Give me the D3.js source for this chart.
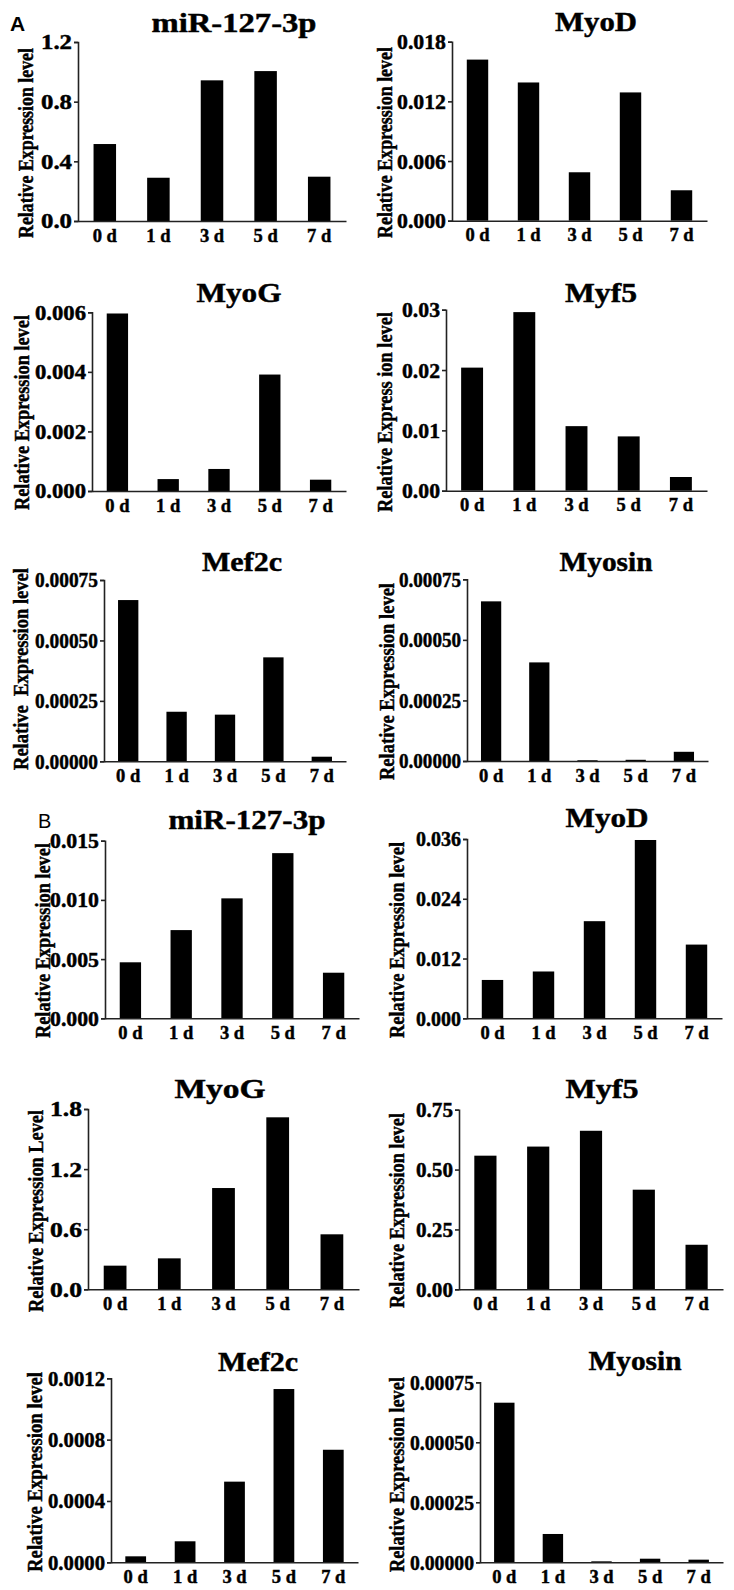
<!DOCTYPE html>
<html>
<head>
<meta charset="utf-8">
<script src="https://cdn.jsdelivr.net/npm/d3@7"></script>
<style>
  html, body { margin: 0; padding: 0; background: #fff; }
  svg { display: block; }
  text { font-family: "Liberation Serif", "Times New Roman", serif; font-weight: bold; fill: #000; }
</style>
</head>
<body>
<div id="chart"></div>
<script>
const days = ['0 d', '1 d', '3 d', '5 d', '7 d']

// A: values
const aMir = [0.516, 0.29, 0.943, 1.005, 0.297]
const aMyoD = [0.0162, 0.0139, 0.00487, 0.0129, 0.00306]
const aMyoG = [0.00596, 0.0004, 0.00074, 0.00391, 0.00038]
const aMyf5 = [0.0204, 0.0296, 0.0107, 0.009, 0.00227]
const aMef2c = [0.000667, 0.000205, 0.000193, 0.00043, 0.000019]
const aMyosin = [0.000659, 0.000407, 0.000003, 0.000005, 0.000038]
// B
const bMir = [0.00473, 0.00745, 0.01013, 0.01395, 0.00385]
const bMyoD = [0.0077, 0.0094, 0.0195, 0.0358, 0.0148]
const bMyoG = [0.236, 0.309, 1.011, 1.717, 0.549]
const bMyf5 = [0.558, 0.596, 0.662, 0.416, 0.186]
const bMef2c = [0.000039, 0.000137, 0.000526, 0.00113, 0.000734]
const bMyosin = [0.000665, 0.000118, 0.000004, 0.000015, 0.000011]

const titles = ['miR-127-3p', 'MyoD', 'MyoG', 'Myf5', 'Mef2c', 'Myosin',
                'miR-127-3p', 'MyoD', 'MyoG', 'Myf5', 'Mef2c', 'Myosin']
const yTitles = ['Relative Expression level', 'Relative Expression level', 'Relative Expression level',
                 'Relative Express ion level', 'Relative  Expression level', 'Relative Expression level',
                 'Relative Expression level', 'Relative Expression level', 'Relative Expression Level',
                 'Relative Expression level', 'Relative Expression level', 'Relative Expression level']
const series = [aMir, aMyoD, aMyoG, aMyf5, aMef2c, aMyosin, bMir, bMyoD, bMyoG, bMyf5, bMef2c, bMyosin]

// tick labels per panel
const tickLabels = [
    ['0.0', '0.4', '0.8', '1.2'],
    ['0.000', '0.006', '0.012', '0.018'],
    ['0.000', '0.002', '0.004', '0.006'],
    ['0.00', '0.01', '0.02', '0.03'],
    ['0.00000', '0.00025', '0.00050', '0.00075'],
    ['0.00000', '0.00025', '0.00050', '0.00075'],
    ['0.000', '0.005', '0.010', '0.015'],
    ['0.000', '0.012', '0.024', '0.036'],
    ['0.0', '0.6', '1.2', '1.8'],
    ['0.00', '0.25', '0.50', '0.75'],
    ['0.0000', '0.0004', '0.0008', '0.0012'],
    ['0.00000', '0.00025', '0.00050', '0.00075'],
]

// layout: x0/x1 axis span, yt/yb top tick & baseline, title centre/baseline/width,
// y title position/length, kw = tick label width
const lay = [
    { x0: 78, x1: 346, yt: 42, yb: 221, tx: 234, ty: 32, tw: 165, lx: 33, ly: 143, lw: 190, kw: 31 },
    { x0: 452, x1: 707, yt: 41.7, yb: 220.7, tx: 596, ty: 31, tw: 82, lx: 392, ly: 142.5, lw: 191, kw: 49 },
    { x0: 92, x1: 346, yt: 312.3, yb: 491, tx: 239, ty: 302, tw: 85, lx: 29, ly: 412.5, lw: 195, kw: 51 },
    { x0: 446, x1: 707, yt: 309.7, yb: 490.7, tx: 601, ty: 302, tw: 72, lx: 392, ly: 412, lw: 200, kw: 38 },
    { x0: 104, x1: 346, yt: 580, yb: 761.3, tx: 242, ty: 571, tw: 80, lx: 28, ly: 669, lw: 202, kw: 63 },
    { x0: 467, x1: 708, yt: 579.3, yb: 761, tx: 606, ty: 571, tw: 93, lx: 394, ly: 681.5, lw: 197, kw: 62 },
    { x0: 105, x1: 359, yt: 840.7, yb: 1018.3, tx: 247, ty: 829, tw: 157, lx: 50, ly: 940.5, lw: 195, kw: 49 },
    { x0: 467, x1: 722, yt: 839, yb: 1018.3, tx: 607, ty: 827, tw: 83, lx: 404, ly: 940, lw: 196, kw: 45 },
    { x0: 88, x1: 359, yt: 1109, yb: 1289.3, tx: 220, ty: 1098, tw: 91, lx: 43, ly: 1211, lw: 202, kw: 32 },
    { x0: 459, x1: 723, yt: 1109.7, yb: 1289.3, tx: 602, ty: 1098, tw: 73, lx: 404, ly: 1210.5, lw: 195, kw: 37 },
    { x0: 111, x1: 358, yt: 1378.3, yb: 1562.3, tx: 258, ty: 1371, tw: 80, lx: 42, ly: 1472, lw: 200, kw: 57 },
    { x0: 480, x1: 723, yt: 1382.3, yb: 1562.3, tx: 635, ty: 1370, tw: 93, lx: 404, ly: 1474.5, lw: 195, kw: 64 },
]

const W = 734, H = 1590
const svg = d3.select('#chart').append('svg')
    .attr('width', W)
    .attr('height', H)
    .attr('viewBox', [0, 0, W, H])

svg.append('text').attr('x', 10).attr('y', 31)
    .style('font-family', '"Liberation Sans", Arial, sans-serif')
    .style('font-size', '21px')
    .text('A')
svg.append('text').attr('x', 38).attr('y', 828)
    .style('font-family', '"Liberation Sans", Arial, sans-serif')
    .style('font-weight', 'normal')
    .style('font-size', '20px')
    .text('B')

const heavy = sel => sel.attr('stroke', '#000').attr('stroke-width', 0.45)

series.forEach((vals, i) => {
    const p = lay[i]
    const ticks = tickLabels[i].map(Number)
    const x = d3.scaleBand().domain(days).range([p.x0, p.x1]).paddingInner(0.58).paddingOuter(0.29)
    const y = d3.scaleLinear().domain([0, ticks[ticks.length - 1]]).range([p.yb, p.yt])
    const g = svg.append('g')

    // bars
    g.selectAll('rect')
        .data(vals)
        .join('rect')
        .attr('x', (d, j) => x(days[j]))
        .attr('width', x.bandwidth())
        .attr('y', d => y(d))
        .attr('height', d => Math.max(0.8, y(0) - y(d)))
        .attr('fill', '#000')

    // y axis
    const ya = g.append('g')
        .attr('transform', `translate(${p.x0},0)`)
        .call(d3.axisLeft(y).tickValues(ticks).tickFormat((d, j) => tickLabels[i][j]).tickSize(4).tickPadding(2))
    ya.select('.domain').attr('stroke', '#222').attr('stroke-width', 1.6)
    ya.selectAll('line').attr('stroke', '#222').attr('stroke-width', 1.6)
    ya.selectAll('text').style('font-size', '20.5px').attr('dy', '0.34em')
        .style('font-family', '"Liberation Serif", "Times New Roman", serif').style('font-weight', 'bold')
        .attr('textLength', p.kw).attr('lengthAdjust', 'spacingAndGlyphs')
        .call(heavy)

    // x axis
    const xa = g.append('g')
        .attr('transform', `translate(0,${p.yb})`)
        .call(d3.axisBottom(x).tickSize(0).tickPadding(5))
    xa.select('.domain').attr('stroke', '#222').attr('stroke-width', 1.6)
    xa.selectAll('text').style('font-size', '18.5px').attr('dy', '0.85em')
        .style('font-family', '"Liberation Serif", "Times New Roman", serif').style('font-weight', 'bold')
        .call(heavy)

    // title
    g.append('text')
        .attr('x', p.tx).attr('y', p.ty)
        .attr('text-anchor', 'middle')
        .attr('textLength', p.tw).attr('lengthAdjust', 'spacingAndGlyphs')
        .style('font-size', '27px')
        .call(heavy)
        .text(titles[i])

    // y axis title
    g.append('text')
        .attr('transform', `translate(${p.lx},${p.ly}) rotate(-90)`)
        .attr('text-anchor', 'middle')
        .attr('textLength', p.lw).attr('lengthAdjust', 'spacingAndGlyphs')
        .style('font-size', '21px')
        .style('white-space', 'pre')
        .call(heavy)
        .text(yTitles[i])
})
</script>
</body>
</html>
